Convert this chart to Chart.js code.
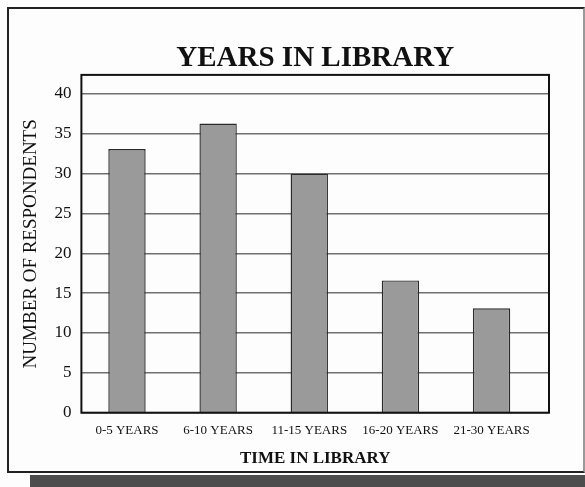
<!DOCTYPE html>
<html><head><meta charset="utf-8">
<script src="https://cdn.jsdelivr.net/npm/chart.js@4/dist/chart.umd.min.js"></script>
<style>
html,body{margin:0;padding:0;background:#fff;}
#wrap{position:relative;width:585px;height:487px;overflow:hidden;background:#fdfdfd;}
#frame{position:absolute;left:7px;top:7px;width:574px;height:462px;border:2px solid #222;border-right-color:#999;}
#band{position:absolute;left:30px;top:475px;width:555px;height:12px;background:#4d4d4d;}
canvas{position:absolute;left:0;top:0;}
</style></head>
<body><div id="wrap"><div id="frame"></div><div id="band"></div><canvas id="c" width="585" height="487"></canvas></div>
<script>
const categories = ['0-5 YEARS','6-10 YEARS','11-15 YEARS','16-20 YEARS','21-30 YEARS'];
const respondents = [33.1, 36.3, 30.0, 16.6, 13.1];
const yTicks = [0,5,10,15,20,25,30,35,40];

const serif = 'Liberation Serif, Times New Roman, serif';

const frameLine = {
  id: 'frameLine',
  afterDatasetsDraw(chart) {
    const {ctx, chartArea: a} = chart;
    ctx.save();
    ctx.strokeStyle = '#111';
    ctx.lineWidth = 2;
    ctx.strokeRect(a.left, a.top, a.right - a.left, a.bottom - a.top);
    ctx.restore();
  }
};

new Chart(document.getElementById('c'), {
  type: 'bar',
  data: {
    datasets: [{
      data: categories.map((c, i) => ({x: i, y: respondents[i]})),
      backgroundColor: '#9a9a9a',
      borderColor: '#2a2a2a',
      borderWidth: 1.4,
      barPercentage: 0.41,
      categoryPercentage: 1
    }]
  },
  options: {
    responsive: false,
    animation: false,
    layout: {padding: {left: 19.6, right: 36, top: 43, bottom: 7.3}},
    plugins: {
      legend: {display: false},
      tooltip: {enabled: false},
      title: {
        display: true, fullSize: false,
        text: 'YEARS IN LIBRARY',
        font: {family: serif, size: 29, weight: 'bold', lineHeight: 1.1},
        color: '#111',
        padding: {top: 0, bottom: 0}
      }
    },
    scales: {
      x: {
        type: 'linear', min: -0.5, max: 4.63, offset: false,
        afterBuildTicks: s => { s.ticks = categories.map((c, i) => ({value: i})); },
        ticks: {
          callback: v => categories[v],
          font: {family: serif, size: 13}, color: '#111',
          padding: 10, maxRotation: 0, autoSkip: false
        },
        grid: {display: false, drawTicks: false},
        border: {display: false},
        title: {
          display: true, text: 'TIME IN LIBRARY',
          font: {family: serif, size: 17, weight: 'bold'}, color: '#111',
          padding: {top: 0, bottom: 11}
        }
      },
      y: {
        min: 0, max: 42.4,
        afterBuildTicks: s => { s.ticks = yTicks.map(v => ({value: v})); },
        ticks: {font: {family: serif, size: 17}, color: '#111', padding: 10},
        grid: {color: '#707070', lineWidth: 1.5, drawTicks: false},
        border: {display: false},
        title: {
          display: true, text: 'NUMBER OF RESPONDENTS',
          font: {family: serif, size: 19}, color: '#111',
          padding: {top: 0, bottom: 2}
        }
      }
    }
  },
  plugins: [frameLine]
});
</script>
</body></html>
